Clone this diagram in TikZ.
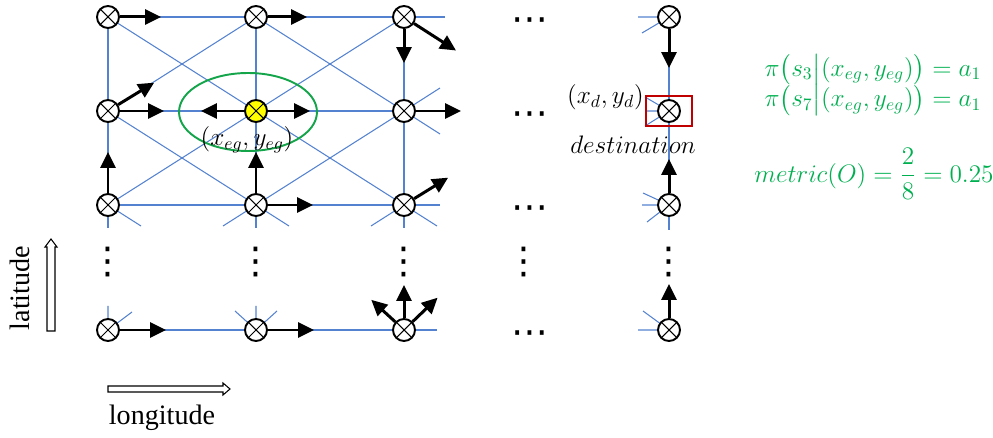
\documentclass[tikz,border=0pt]{standalone}
\usepackage{amsmath}
\usepackage[no-math]{fontspec}
\setmainfont{Liberation Serif}
\newfontfamily\symfont{DejaVu Sans}
\usetikzlibrary{arrows.meta, positioning, backgrounds, shapes.geometric}
\definecolor{cLine}{RGB}{84,130,208}
\definecolor{cGreen}{RGB}{0,176,80}
\definecolor{cRing}{RGB}{20,165,75}
\definecolor{cRed}{RGB}{192,0,0}
\definecolor{cYellow}{RGB}{255,255,0}
\tikzset{
  cellnode/.style={circle, draw=black, line width=1.1pt, fill=white,
                   minimum size=0.44cm, inner sep=0pt,
                   path picture={\draw[line width=0.6pt]
                     (path picture bounding box.north west) -- (path picture bounding box.south east)
                     (path picture bounding box.north east) -- (path picture bounding box.south west);}},
  egnode/.style={cellnode, fill=cYellow},
  destbox/.style={rectangle, draw=cRed, line width=1.1pt,
                  minimum width=0.92cm, minimum height=0.6cm},
  ringnode/.style={ellipse, draw=cRing, line width=1.1pt,
                   minimum width=2.76cm, minimum height=1.56cm},
  gridline/.style={color=cLine, line width=0.6pt},
  actarrow/.style={-{Triangle[length=9pt,width=8.5pt]}, line width=1.7pt, color=black},
  hollow/.style={draw=black, line width=0.6pt, fill=white},
  mathlabel/.style={font=\fontsize{14}{16}\selectfont, inner sep=0pt},
  eqlabel/.style={mathlabel, text=cGreen},
  dotsnode/.style={font=\symfont\fontsize{21}{21}\selectfont, inner sep=0pt},
  axislabel/.style={font=\fontsize{16}{19}\selectfont, inner sep=0pt}
}
\begin{document}
\begin{tikzpicture}[x=0.02cm, y=-0.02cm]
  \useasboundingbox (0,0) rectangle (993,438);

  % grid cells, named by column and row
  \node[cellnode] (n11) at (108,17) {};
  \node[cellnode] (n21) at (256,17) {};
  \node[cellnode] (n31) at (404,17) {};
  \node[cellnode] (n41) at (669,17) {};
  \node[cellnode] (n12) at (108,111) {};
  \node[egnode]   (n22) at (256,111) {};
  \node[cellnode] (n32) at (404,111) {};
  \node[cellnode] (n42) at (669,111) {};
  \node[cellnode] (n13) at (108,205) {};
  \node[cellnode] (n23) at (256,205) {};
  \node[cellnode] (n33) at (404,205) {};
  \node[cellnode] (n43) at (669,205) {};
  \node[cellnode] (n14) at (108,330) {};
  \node[cellnode] (n24) at (256,330) {};
  \node[cellnode] (n34) at (404,330) {};
  \node[cellnode] (n44) at (669,330) {};

  \node[ringnode] (zone) at (248,112) {};
  \node[destbox] (dest) at (n42) {};

  % lattice behind the cells
  \begin{scope}[on background layer={gridline}]
    \draw (n11.center) -- (n31.center) -- ++(41,0);
    \draw (n12.center) -- (n32.center);
    \draw (n13.center) -- (n33.center) -- ++(36,0);
    \draw (n14.center) -- (n34.center) -- ++(33,0);
    \draw (n11.center) -- (n13.center) -- ++(0,23);
    \draw (n21.center) -- (n23.center) -- ++(0,23);
    \draw (n31.center) -- (n33.center) -- ++(0,23);
    \draw (n41.center) -- (n43.center) -- ++(0,25);
    \draw (n11.center) -- (n33.center) -- ++(33,21);
    \draw (n31.center) -- (n13.center) -- ++(33,21);
    \draw (n12.center) -- (n21.center) -- (n32.center) -- ++(36,23);
    \draw (n12.center) -- (n23.center) -- ++(33,21);
    \draw (n23.center) ++(-33,21) -- (n23.center) -- (n32.center) -- ++(36,-23);
    \draw (n33.center) -- ++(-33,21);
    % stubs above the last row
    \draw (n14.center) -- ++(0,-24) (n14.center) -- ++(24,-18);
    \draw (n24.center) -- ++(0,-24) (n24.center) -- ++(-21,-19) (n24.center) -- ++(21,-19);
    \draw (n34.center) -- ++(0,-24) (n34.center) -- ++(-21,-19) (n34.center) -- ++(21,-19);
    % stubs left of the last column
    \draw (n41.center) -- ++(-31,0) (n41.center) -- ++(-27,16);
    \draw (n42.center) -- ++(-24,0) (n42.center) -- ++(-24,-14) (n42.center) -- ++(-24,15);
    \draw (n43.center) -- ++(-27,0) (n43.center) -- ++(-26,-12) (n43.center) -- ++(-22,17);
    \draw (n44.center) -- ++(-31,0) (n44.center) -- ++(-26,-19) (n44.center) -- ++(0,-24);
  \end{scope}

  % actions
  \draw[actarrow] (n11.east) -- ++(41,0);
  \draw[actarrow] (n21.east) -- ++(39,0);
  \draw[actarrow] (n31.south) -- ++(0,34);
  \draw[actarrow] (n31.-33) -- ++(42,27);
  \draw[actarrow] (n12.east) -- ++(44,0);
  \draw[actarrow] (n12.32) -- ++(36,-22);
  \draw[actarrow] (n22.west) -- ++(-43,0);
  \draw[actarrow] (n22.east) -- ++(42,0);
  \draw[actarrow] (n32.east) -- ++(45,0);
  \draw[actarrow] (n13.north) -- ++(0,-41);
  \draw[actarrow] (n23.north) -- ++(0,-41);
  \draw[actarrow] (n23.east) -- ++(45,0);
  \draw[actarrow] (n33.32) -- ++(34,-21);
  \draw[actarrow] (n14.east) -- ++(46,0);
  \draw[actarrow] (n24.east) -- ++(46,0);
  \draw[actarrow] (n34.north) -- ++(0,-33);
  \draw[actarrow] (n34.137) -- ++(-24,-22);
  \draw[actarrow] (n34.44) -- ++(25,-24);
  \draw[actarrow] (n41.south) -- ++(0,39);
  \draw[actarrow] (n43.north) -- ++(0,-34);
  \draw[actarrow] (n44.north) -- ++(0,-34);

  % ellipsis marks
  \node[dotsnode] (hd1) at (530,25) {⋯};
  \node[dotsnode] (hd2) at (530,119) {⋯};
  \node[dotsnode] (hd3) at (530,213) {⋯};
  \node[dotsnode] (hd4) at (530,338) {⋯};
  \node[dotsnode] (vd1) at (108,262) {⋮};
  \node[dotsnode] (vd2) at (256,262) {⋮};
  \node[dotsnode] (vd3) at (404,262) {⋮};
  \node[dotsnode] (vd4) at (524,262) {⋮};
  \node[dotsnode] (vd5) at (669,262) {⋮};

  % labels
  \node[mathlabel, below=0.06cm of n22, xshift=-0.18cm] (egxy) {$(x_{eg},y_{eg})$};
  \node[mathlabel, left=0.02cm of dest.west, yshift=0.28cm] (dxy) {$(x_d,y_d)$};
  \node[mathlabel, below=0.18cm of dest, xshift=-0.72cm] (destlbl) {$destination$};

  \node[eqlabel, align=center] (policy) at (873,85)
      {$\pi\bigl(s_3\big|(x_{eg},y_{eg})\bigr)=a_1$\\[-1pt]
       $\pi\bigl(s_7\big|(x_{eg},y_{eg})\bigr)=a_1$};
  \node[eqlabel] (metric) at (874,174) {$metric(O)=\dfrac{2}{8}=0.25$};

  % axes
  \draw[hollow] (47,331) -- (47,247) -- (45,247) -- (51,239) -- (57,247) -- (55,247) -- (55,331) -- cycle;
  \draw[hollow] (108,386) -- (223,386) -- (223,383) -- (230,389) -- (223,395) -- (223,392) -- (108,392) -- cycle;
  \node[axislabel, rotate=90] (lat) at (20,288) {latitude};
  \node[axislabel] (lon) at (162,418) {longitude};
\end{tikzpicture}
\end{document}
